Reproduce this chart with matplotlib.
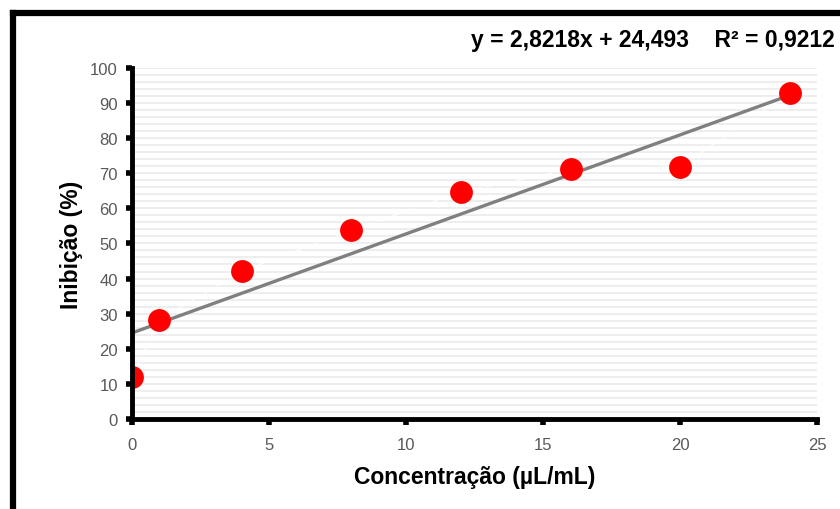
import numpy as np
import matplotlib
matplotlib.use('Agg')
import matplotlib.pyplot as plt
from matplotlib.lines import Line2D

# dados
conc = [0, 1, 4, 8, 12, 16, 20, 24]
inib = [12.0, 28.3, 42.1, 53.7, 64.7, 71.1, 71.9, 92.7]
slope, intercept, r2 = 2.8218, 24.493, 0.9212
xticks = [0, 5, 10, 15, 20, 25]
yticks = [0, 10, 20, 30, 40, 50, 60, 70, 80, 90, 100]

plt.rcParams['font.family'] = ['Liberation Sans', 'DejaVu Sans']

fig = plt.figure(figsize=(8.4, 5.1), dpi=100)
ax = fig.add_axes([0.157, 0.1765, 0.816, 0.6885])

# grade horizontal fina a cada 2 unidades
for g in np.arange(2, 101, 2):
    ax.axhline(g, color='#ebebeb', lw=1.2, zorder=0)

ax.plot(conc, inib, color='white', lw=0.8, ls=(0, (8, 5)), zorder=1)

xt = np.array([0, 24])
ax.plot(xt, slope * xt + intercept, color='#808080', lw=2.4, zorder=2)
ax.scatter(conc, inib, s=270, color='#ff0000', zorder=3, linewidths=0)

ax.set_xlim(0, 25)
ax.set_ylim(0, 100)
ax.set_xticks(xticks)
ax.set_yticks(yticks)
ax.tick_params(length=4, width=4, color='black', labelsize=12, labelcolor='#595959')
ax.tick_params(axis='x', pad=9)
ax.tick_params(axis='y', pad=6)

for s in ['top', 'right']:
    ax.spines[s].set_visible(False)
for s in ['left', 'bottom']:
    ax.spines[s].set_linewidth(3.5)
    ax.spines[s].set_color('black')
    ax.spines[s].set_zorder(4)
ax.patch.set_alpha(0)

ax.set_xlabel('Concentração (µL/mL)', fontsize=16.5, fontweight='bold', labelpad=9)
ax.set_ylabel('Inibição (%)', fontsize=16.5, fontweight='bold', labelpad=5)

eq = 'y = 2,8218x + 24,493    R² = 0,9212'
fig.text(0.994, 0.921, eq, ha='right', va='center', fontsize=16.5, fontweight='bold')

# moldura
fig.add_artist(Line2D([0.0155, 1.0], [0.973, 0.973], color='black', lw=4.5, transform=fig.transFigure))
fig.add_artist(Line2D([0.0155, 0.0155], [0.0, 0.973], color='black', lw=4.5, transform=fig.transFigure))

plt.savefig('out.png', dpi=100)
